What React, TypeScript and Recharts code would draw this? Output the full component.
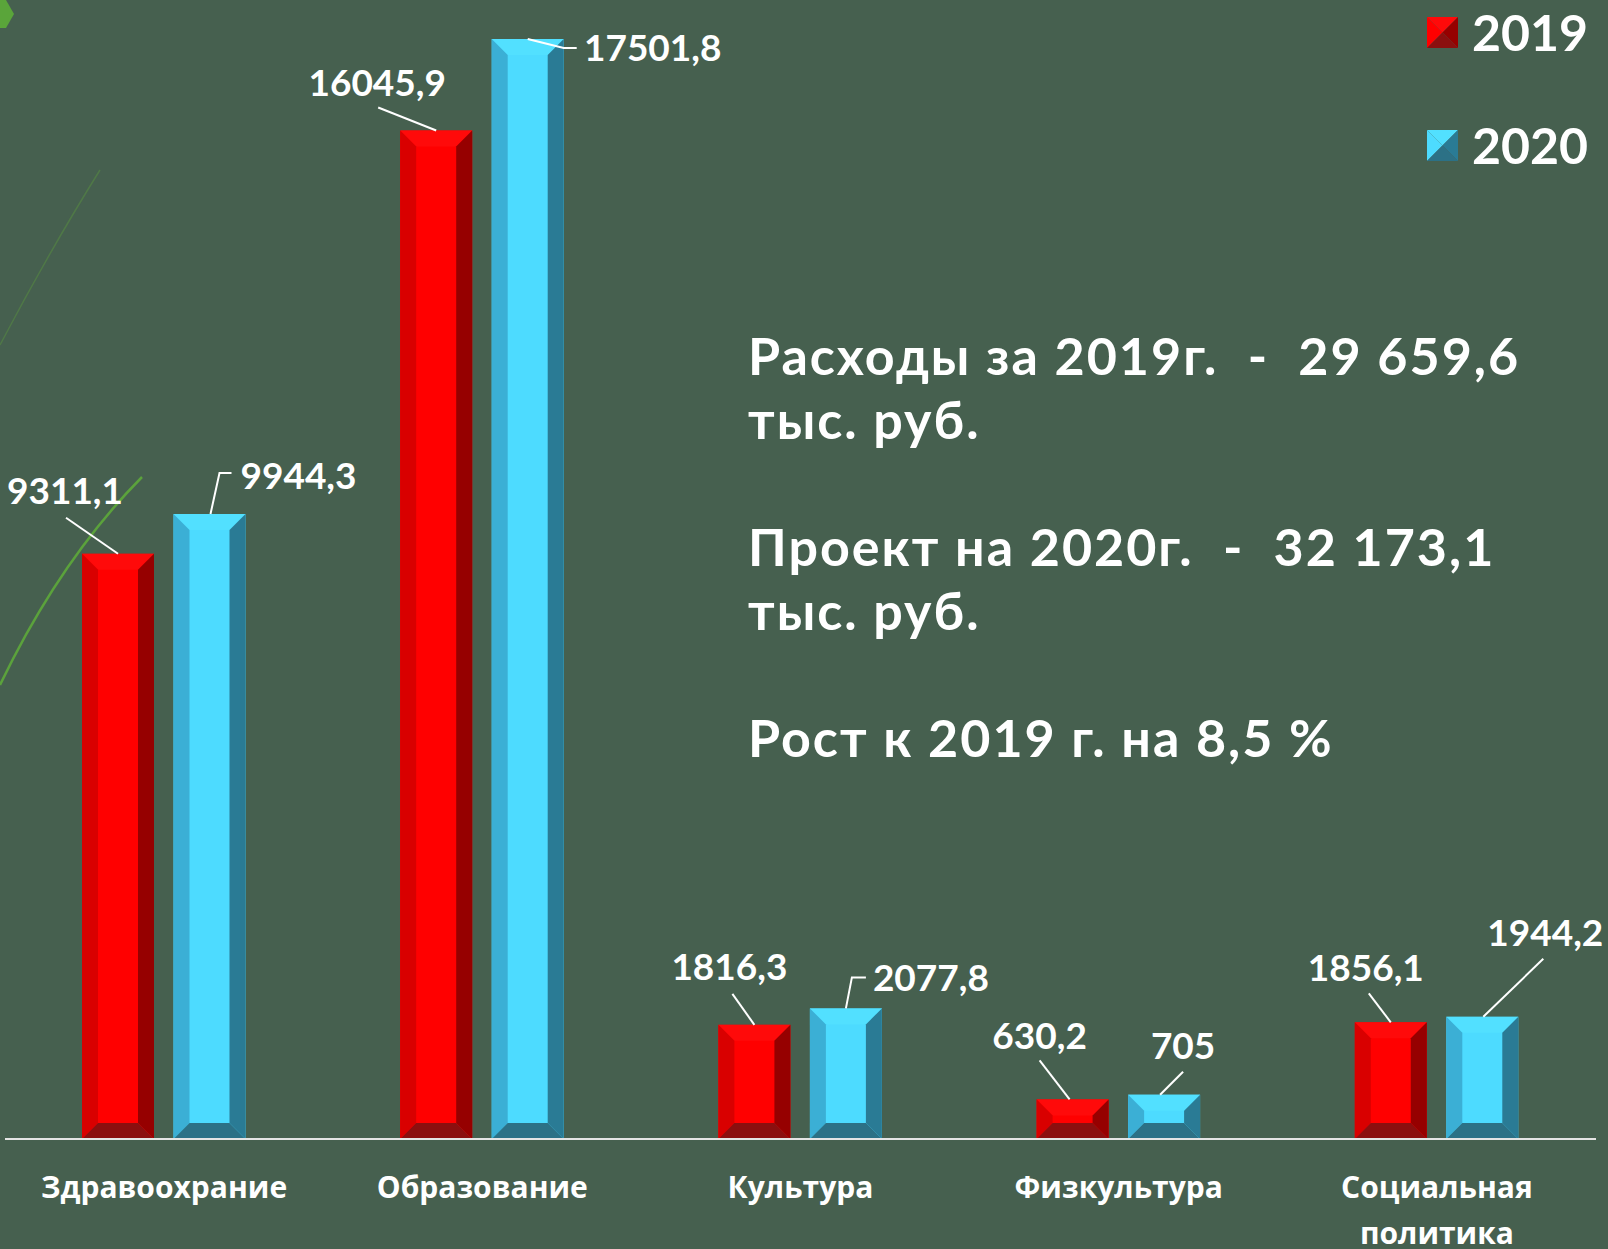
import React from 'react'
import { BarChart, Bar, XAxis, YAxis, Legend, LabelList } from 'recharts'

const categories = ['Здравоохрание', 'Образование', 'Культура', 'Физкультура', 'Социальная политика']
const values2019 = [9311.1, 16045.9, 1816.3, 630.2, 1856.1]
const values2020 = [9944.3, 17501.8, 2077.8, 705, 1944.2]
const labels2019 = ['9311,1', '16045,9', '1816,3', '630,2', '1856,1']
const labels2020 = ['9944,3', '17501,8', '2077,8', '705', '1944,2']
const summaryLines = [
  'Расходы за 2019г.  -  29 659,6',
  'тыс. руб.',
  '',
  'Проект на 2020г.  -  32 173,1',
  'тыс. руб.',
  '',
  'Рост к 2019 г. на 8,5 %',
]

const data = categories.map((name, i) => ({
  name,
  y2019: values2019[i],
  y2020: values2020[i],
  l2019: labels2019[i],
  l2020: labels2020[i],
}))

// label placement relative to the top centre of each bar (text centre + leader line)
const offsets2019 = [
  { dx: -53, dy: -63, leader: [[0, 0], [-52, -36]] },
  { dx: -59, dy: -48, leader: [[0, 0], [-58, -23]] },
  { dx: -25, dy: -58, leader: [[0, 0], [-22, -31]] },
  { dx: -33, dy: -64, leader: [[-3, 0], [-33, -39]] },
  { dx: -25, dy: -55, leader: [[0, 0], [-22, -29]] },
]
const offsets2020 = [
  { dx: 89, dy: -38, leader: [[1, 0], [10, -41], [22, -41]] },
  { dx: 125, dy: 9, leader: [[0, 0], [36, 9], [49, 9]] },
  { dx: 85, dy: -31, leader: [[0, 0], [6, -31], [20, -31]] },
  { dx: 19, dy: -49, leader: [[-4, 0], [19, -23]] },
  { dx: 63, dy: -84, leader: [[1, 0], [61, -58]] },
]

const BG = '#46604f'
const NUM_FONT = 'Lato, "DejaVu Sans", sans-serif'

const redColors = { front: '#ff0000', top: '#ff0a0a', left: '#d90000', right: '#960000', bottom: '#8b0f0f' }
const blueColors = { front: '#4ddbff', top: '#52e0ff', left: '#3bafd5', right: '#2a7b95', bottom: '#2c7186' }

const bevelShape = (c: any) => (props: any) => {
  const { x, y, width: w, height: h } = props
  if (!h || h <= 0) return <g />
  const b = Math.min(16, w / 2.5, h / 2.4)
  const pts = (a: number[][]) => a.map((p) => p.join(',')).join(' ')
  return (
    <g>
      <rect x={x} y={y} width={w} height={h} fill={c.front} />
      <polygon points={pts([[x, y], [x + w, y], [x + w - b, y + b], [x + b, y + b]])} fill={c.top} />
      <polygon points={pts([[x, y], [x + b, y + b], [x + b, y + h - b], [x, y + h]])} fill={c.left} />
      <polygon points={pts([[x + w, y], [x + w, y + h], [x + w - b, y + h - b], [x + w - b, y + b]])} fill={c.right} />
      <polygon points={pts([[x, y + h], [x + b, y + h - b], [x + w - b, y + h - b], [x + w, y + h]])} fill={c.bottom} />
    </g>
  )
}

const makeLabel = (offs: any[]) => (props: any) => {
  const { x, y, width, value, index } = props
  const o = offs[index]
  if (!o) return null
  const cx = Number(x) + Number(width) / 2
  const cy = Number(y)
  const line = o.leader.map((p: number[]) => `${cx + p[0]},${cy + p[1]}`).join(' ')
  return (
    <g>
      <polyline points={line} fill="none" stroke="#ffffff" strokeWidth={2} />
      <text
        x={cx + o.dx}
        y={cy + o.dy}
        dy="0.36em"
        textAnchor="middle"
        fill="#ffffff"
        fontFamily={NUM_FONT}
        fontWeight={700}
        fontSize={37}
      >
        {value}
      </text>
    </g>
  )
}

const CategoryTick = (props: any) => {
  const { x, y, payload } = props
  const words = String(payload.value).split(' ')
  return (
    <text
      x={x}
      y={y + 51}
      textAnchor="middle"
      fill="#ffffff"
      fontFamily='"Open Sans", "Noto Sans", sans-serif'
      fontWeight={700}
      fontSize={30}
    >
      {words.map((wd, i) => (
        <tspan key={i} x={x} dy={i === 0 ? 0 : 46}>
          {wd}
        </tspan>
      ))}
    </text>
  )
}

const Pyramid = ({ c }: { c: any }) => (
  <svg width={31} height={31}>
    <polygon points="0,0 31,0 15.5,15.5" fill={c.top} />
    <polygon points="0,0 15.5,15.5 0,31" fill={c.front} />
    <polygon points="31,0 31,31 15.5,15.5" fill={c.right} />
    <polygon points="0,31 15.5,15.5 31,31" fill={c.bottom} />
  </svg>
)

const LegendContent = () => (
  <div style={{ position: 'relative', width: 200, height: 180 }}>
    {[
      { name: '2019', c: redColors, top: 0 },
      { name: '2020', c: blueColors, top: 113 },
    ].map((it) => (
      <div key={it.name} style={{ position: 'absolute', left: 0, top: it.top, display: 'flex', alignItems: 'center' }}>
        <Pyramid c={it.c} />
        <span
          style={{
            marginLeft: 14,
            color: '#ffffff',
            fontFamily: NUM_FONT,
            fontWeight: 700,
            fontSize: 50,
            lineHeight: '50px',
          }}
        >
          {it.name}
        </span>
      </div>
    ))}
  </div>
)

export default function App() {
  return (
    <div style={{ position: 'absolute', left: 0, top: 0, width: 1608, height: 1249, background: BG, overflow: 'hidden' }}>
      <svg width={1608} height={1249} style={{ position: 'absolute', left: 0, top: 0 }}>
        <polygon points="0,0 6,0 14,14 6,28 0,28" fill="#5aa53a" />
        <path d="M100,170 Q50,250 0,345" fill="none" stroke="#4f7847" strokeWidth={1.5} />
        <path d="M142,477 Q60,560 0,685" fill="none" stroke="#5ba23c" strokeWidth={2.5} />
        {summaryLines.map((t, i) => (
          <text
            key={i}
            x={748}
            y={375 + i * 63.7}
            fill="#ffffff"
            fontFamily={NUM_FONT}
            fontWeight={700}
            fontSize={52}
            letterSpacing={2}
            style={{ whiteSpace: 'pre' }}
          >
            {t}
          </text>
        ))}
      </svg>
      <div style={{ position: 'absolute', left: 0, top: 0 }}>
        <BarChart
          width={1608}
          height={1249}
          data={data}
          margin={{ top: 39, right: 12, left: 5, bottom: 0 }}
          barSize={72}
          barGap={19.5}
        >
          <XAxis
            dataKey="name"
            height={110}
            tickLine={false}
            axisLine={{ stroke: '#e4e4e4', strokeWidth: 2 }}
            tick={<CategoryTick />}
            interval={0}
          />
          <YAxis hide domain={[0, 'dataMax']} />
          <Legend
            layout="horizontal"
            verticalAlign="middle"
            align="center"
            wrapperStyle={{ top: 7, left: 1427, width: 200 }}
            content={<LegendContent />}
          />
          <Bar dataKey="y2019" name="2019" fill="#ff0000" shape={bevelShape(redColors)} isAnimationActive={false}>
            <LabelList dataKey="l2019" content={makeLabel(offsets2019)} />
          </Bar>
          <Bar dataKey="y2020" name="2020" fill="#4ddbff" shape={bevelShape(blueColors)} isAnimationActive={false}>
            <LabelList dataKey="l2020" content={makeLabel(offsets2020)} />
          </Bar>
        </BarChart>
      </div>
    </div>
  )
}
